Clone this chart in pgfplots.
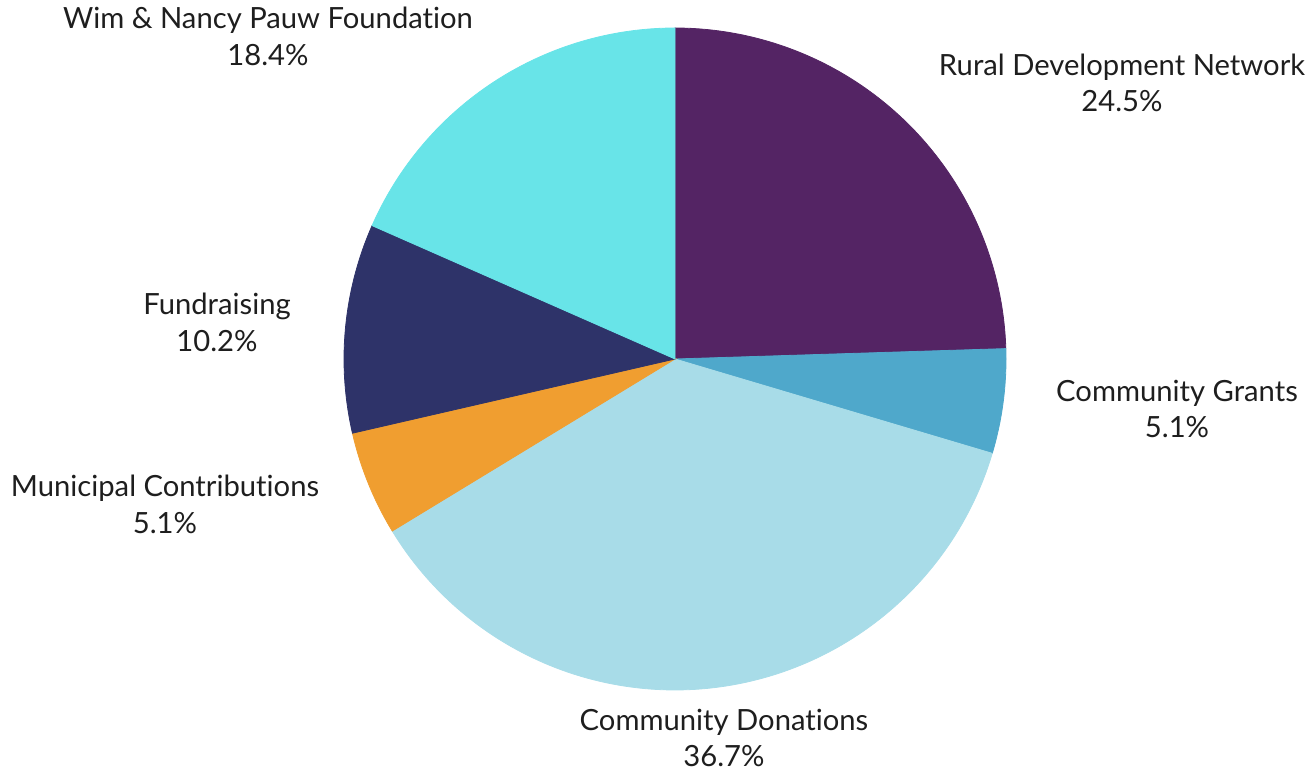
\documentclass[border=0pt]{standalone}
\usepackage{pgfplots}
\pgfplotsset{compat=1.18}
\usepackage{fontspec}
\setmainfont{Lato}[Ligatures={NoCommon,NoDiscretionary,NoRare}]

\definecolor{cRural}{HTML}{542464}
\definecolor{cGrants}{HTML}{4FA8CB}
\definecolor{cDonations}{HTML}{A8DCE8}
\definecolor{cMunicipal}{HTML}{F09E30}
\definecolor{cFund}{HTML}{2E3369}
\definecolor{cWim}{HTML}{68E4E8}
\definecolor{txt}{HTML}{1E1E1E}

% shares in percent, clockwise from 12 o'clock
\def\sRural{24.5}
\def\sGrants{5.1}
\def\sDonations{36.7}
\def\sMunicipal{5.1}
\def\sFund{10.2}
\def\sWim{18.4}

\pgfmathsetmacro\aA{90}
\pgfmathsetmacro\aB{\aA-3.6*\sRural}
\pgfmathsetmacro\aC{\aB-3.6*\sGrants}
\pgfmathsetmacro\aD{\aC-3.6*\sDonations}
\pgfmathsetmacro\aE{\aD-3.6*\sMunicipal}
\pgfmathsetmacro\aF{\aE-3.6*\sFund}
\pgfmathsetmacro\aG{\aF-3.6*\sWim}

\begin{document}
\begin{tikzpicture}
\begin{axis}[
  hide axis,
  scale only axis,
  x=165.5pt, y=165.5pt,
  xmin=-2.0393, xmax=1.9124,
  ymin=-1.2508, ymax=1.0846,
  clip=false,
  samples=120,
  every axis plot/.append style={line width=0.4pt},
]
\path (rel axis cs:0,0) rectangle (rel axis cs:1,1);

\addplot[fill=cRural, draw=cRural, domain=\aB:\aA] ({cos(x)},{sin(x)}) -- (axis cs:0,0) -- cycle;
\addplot[fill=cGrants, draw=cGrants, domain=\aC:\aB] ({cos(x)},{sin(x)}) -- (axis cs:0,0) -- cycle;
\addplot[fill=cDonations, draw=cDonations, domain=\aD:\aC] ({cos(x)},{sin(x)}) -- (axis cs:0,0) -- cycle;
\addplot[fill=cMunicipal, draw=cMunicipal, domain=\aE:\aD] ({cos(x)},{sin(x)}) -- (axis cs:0,0) -- cycle;
\addplot[fill=cFund, draw=cFund, domain=\aF:\aE] ({cos(x)},{sin(x)}) -- (axis cs:0,0) -- cycle;
\addplot[fill=cWim, draw=cWim, domain=\aG:\aF] ({cos(x)},{sin(x)}) -- (axis cs:0,0) -- cycle;

\tikzset{lbl/.style={align=center, text=txt, font=\fontsize{14.6}{18.3}\selectfont, inner sep=0pt}}
\node[lbl] at (axis cs:-1.2296,0.9743) {Wim \& Nancy Pauw Foundation\\18.4\%};
\node[lbl] at (axis cs:1.3505,0.8338) {Rural Development Network\\24.5\%};
\node[lbl] at (axis cs:-1.3837,0.1103) {Fundraising\\10.2\%};
\node[lbl] at (axis cs:1.5166,-0.1511) {Community Grants\\5.1\%};
\node[lbl] at (axis cs:-1.5408,-0.4396) {Municipal Contributions\\5.1\%};
\node[lbl] at (axis cs:0.148,-1.1450) {Community Donations\\36.7\%};
\end{axis}
\end{tikzpicture}
\end{document}
